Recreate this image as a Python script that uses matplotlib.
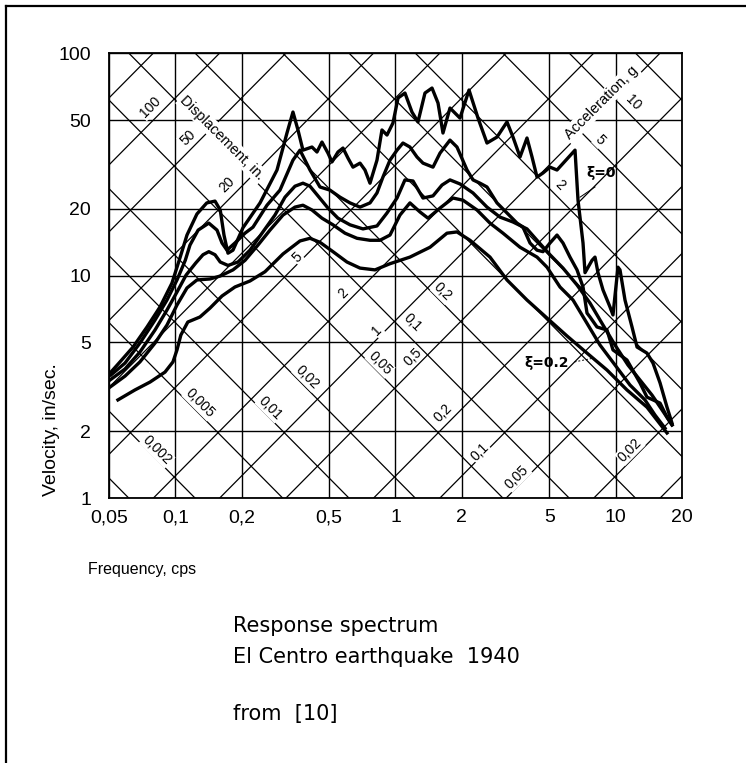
import numpy as np
import matplotlib
matplotlib.use('Agg')
import matplotlib.pyplot as plt
from matplotlib.lines import Line2D
from matplotlib.ticker import NullLocator

G_IN = 386.1  # gravity, in/sec^2

# response curves: frequency (cps) / velocity (in/sec)
freq_0 = [0.051, 0.0561, 0.0643, 0.0744, 0.0852, 0.0966, 0.105, 0.113, 0.1254, 0.139,
          0.1515, 0.160, 0.1664, 0.1735, 0.1828, 0.203, 0.2426, 0.2897, 0.3215, 0.3423,
          0.3607, 0.380, 0.4176, 0.44, 0.4636, 0.4936, 0.5148, 0.548, 0.5775, 0.6086,
          0.6412, 0.69, 0.7268, 0.766, 0.824, 0.868, 0.915, 0.974, 1.027, 1.104,
          1.188, 1.265, 1.361, 1.465, 1.56, 1.643, 1.768, 1.963, 2.157, 2.37,
          2.603, 2.89, 3.209, 3.417, 3.677, 3.955, 4.169, 4.392, 4.676, 5.03,
          5.413, 6.535, 6.743, 7.105, 7.255, 7.805, 8.054, 8.31, 8.757, 9.422,
          9.72, 10.24, 10.46, 11.02, 11.86, 12.5, 13.87, 14.77, 15.9, 17.1, 18.02]
vel_0 = [3.68, 4.09, 4.77, 5.87, 7.22, 9.25, 12.0, 15.2, 18.9, 21.2,
         21.6, 19.7, 15.2, 12.6, 13.0, 16.4, 21.2, 29.8, 43.7, 54.3,
         45.1, 36.6, 37.8, 35.9, 39.8, 35.5, 32.4, 35.9, 37.4, 33.7,
         30.7, 32.0, 29.8, 26.0, 33.0, 45.1, 42.8, 48.5, 62.8, 66.1,
         54.3, 49.0, 66.1, 69.6, 59.6, 43.7, 56.6, 51.0, 68.2, 51.0,
         39.4, 41.9, 49.0, 41.9, 34.1, 41.5, 34.1, 27.7, 28.9, 30.7,
         29.8, 36.6, 21.8, 14.0, 10.3, 11.7, 12.1, 10.3, 8.61, 7.22,
         6.65, 10.9, 10.6, 7.76, 5.87, 4.77, 4.48, 4.04, 3.29, 2.56, 2.17]

freq_002 = [0.051, 0.0591, 0.0691, 0.0809, 0.0917, 0.1018, 0.111, 0.1166, 0.127, 0.142,
            0.1547, 0.163, 0.1717, 0.1866, 0.2073, 0.2254, 0.2609, 0.2988, 0.3423, 0.3684,
            0.409, 0.454, 0.504, 0.5598, 0.6215, 0.69, 0.766, 0.824, 0.877, 0.944,
            1.016, 1.081, 1.163, 1.252, 1.333, 1.48, 1.593, 1.768, 1.902, 2.113,
            2.249, 2.42, 2.603, 2.89, 3.209, 3.563, 3.793, 4.082, 4.392, 4.676,
            5.03, 5.413, 5.763, 6.2, 6.673, 7.105, 7.408, 7.643, 8.224, 9.13,
            9.72, 11.25, 12.89, 13.87, 15.9, 17.1, 18.02]
vel_002 = [3.57, 4.04, 4.97, 6.31, 7.76, 9.55, 11.7, 13.7, 16.0, 17.2,
           16.0, 14.0, 13.0, 14.0, 15.5, 16.5, 20.7, 24.2, 33.0, 36.6,
           29.8, 25.0, 24.2, 22.5, 21.2, 20.3, 21.2, 23.5, 27.7, 33.0,
           36.6, 39.4, 37.8, 34.1, 32.0, 30.7, 35.5, 40.6, 37.8, 29.8,
           26.9, 26.0, 25.0, 21.2, 19.1, 17.2, 16.5, 14.0, 13.0, 12.8,
           14.0, 15.2, 14.0, 12.1, 10.6, 8.88, 6.78, 6.51, 5.87, 5.69,
           4.63, 4.17, 3.29, 2.84, 2.67, 2.31, 2.13]

freq_005 = [0.0505, 0.0591, 0.0691, 0.0809, 0.0917, 0.1018, 0.112, 0.124, 0.1336, 0.142,
            0.1515, 0.160, 0.1735, 0.1926, 0.2184, 0.250, 0.2836, 0.315, 0.3496, 0.380,
            0.409, 0.4446, 0.4936, 0.548, 0.6215, 0.7117, 0.824, 0.915, 1.016, 1.104,
            1.201, 1.333, 1.48, 1.626, 1.768, 1.963, 2.249, 2.603, 2.983, 3.417,
            3.955, 4.392, 5.03, 5.763, 6.673, 7.643, 8.757, 9.93, 11.37, 12.89,
            14.62, 16.23, 18.02]
vel_005 = [3.39, 3.80, 4.53, 5.69, 7.00, 8.43, 10.05, 11.4, 12.4, 12.8,
           12.4, 11.5, 11.1, 11.5, 13.0, 15.7, 18.7, 22.5, 25.2, 26.0,
           25.2, 22.8, 20.1, 18.1, 16.9, 16.2, 16.7, 19.1, 22.3, 26.9,
           26.6, 22.3, 22.8, 25.5, 26.9, 25.8, 23.5, 20.3, 18.3, 17.4,
           16.2, 14.4, 12.4, 10.8, 9.07, 7.52, 5.99, 4.87, 3.96, 3.39,
           2.90, 2.49, 2.13]

freq_010 = [0.0505, 0.0591, 0.0691, 0.0809, 0.0917, 0.1018, 0.113, 0.1254, 0.1438, 0.160,
            0.1828, 0.2073, 0.2374, 0.2692, 0.3084, 0.3496, 0.380, 0.4176, 0.4636, 0.5201,
            0.5897, 0.6686, 0.766, 0.850, 0.944, 1.048, 1.163, 1.292, 1.405, 1.593,
            1.824, 2.026, 2.345, 2.686, 3.077, 3.677, 4.392, 4.875, 5.585, 6.4,
            7.255, 8.486, 9.93, 11.61, 13.58, 15.08, 16.75]
vel_010 = [3.15, 3.53, 4.09, 4.97, 5.99, 7.37, 8.79, 9.55, 9.65, 9.95,
           10.6, 11.7, 13.7, 16.0, 18.7, 20.3, 20.7, 19.7, 18.1, 16.9,
           15.5, 14.7, 14.4, 14.4, 15.2, 18.7, 21.2, 19.3, 18.1, 20.1,
           22.3, 21.8, 19.7, 17.2, 15.5, 13.4, 12.1, 10.9, 8.88, 7.76,
           6.31, 4.87, 3.96, 3.22, 2.76, 2.36, 2.06]

freq_020 = [0.0549, 0.0656, 0.0768, 0.0898, 0.0976, 0.1018, 0.106, 0.114, 0.1294, 0.1438,
            0.163, 0.1866, 0.2184, 0.2555, 0.3084, 0.3684, 0.409, 0.454, 0.5201, 0.602,
            0.69, 0.807, 0.944, 1.163, 1.435, 1.713, 1.902, 2.18, 2.686, 3.209,
            3.955, 4.875, 6.009, 7.408, 9.13, 11.25, 13.87, 15.9, 17.1]
vel_020 = [2.76, 3.06, 3.32, 3.68, 4.09, 4.63, 5.40, 6.18, 6.51, 7.14,
           8.09, 8.88, 9.45, 10.4, 12.5, 14.3, 14.7, 14.1, 12.8, 11.5,
           10.8, 10.6, 11.3, 12.1, 13.4, 15.5, 15.7, 14.4, 12.1, 9.55,
           7.76, 6.44, 5.35, 4.48, 3.76, 3.06, 2.56, 2.15, 1.96]

curves = [(freq_0, vel_0), (freq_002, vel_002), (freq_005, vel_005),
          (freq_010, vel_010), (freq_020, vel_020)]

# tripartite grid
disp_lines = [0.01, 0.02, 0.05, 0.1, 0.2, 0.5, 1, 2, 5, 10, 20, 50, 100, 200]   # in.
acc_lines = [0.001, 0.002, 0.005, 0.01, 0.02, 0.05, 0.1, 0.2, 0.5, 1, 2, 5, 10, 20]  # g

x_ticks = [0.05, 0.1, 0.2, 0.5, 1, 2, 5, 10, 20]
x_labels = ['0,05', '0,1', '0,2', '0,5', '1', '2', '5', '10', '20']
y_ticks = [1, 2, 5, 10, 20, 50, 100]
y_labels = ['1', '2', '5', '10', '20', '50', '100']

# grid value labels: text, frequency, velocity
disp_labels = [('100', 0.0768, 57.2), ('50', 0.114, 41.5), ('20', 0.172, 25.5),
               ('5', 0.357, 12.1), ('2', 0.578, 8.34), ('1', 0.824, 5.69),
               ('0,5', 1.2, 4.3), ('0,2', 1.64, 2.41), ('0,1', 2.42, 1.61),
               ('0,05', 3.56, 1.24), ('0,02', 11.6, 1.64)]
acc_labels = [('0,002', 0.0827, 1.64), ('0,005', 0.129, 2.67), ('0,01', 0.269, 2.54),
              ('0,02', 0.396, 3.5), ('0,05', 0.851, 4.04), ('0,1', 1.19, 6.18),
              ('0,2', 1.64, 8.43), ('2', 5.58, 25.5), ('5', 8.49, 40.6), ('10', 12.0, 59.6)]

fig = plt.figure(figsize=(7.46, 7.63), dpi=100)
ax = fig.add_axes([0.1461, 0.3473, 0.7681, 0.5832])
ax.set_xscale('log')
ax.set_yscale('log')
ax.set_xlim(0.05, 20)
ax.set_ylim(1, 100)

f_end = np.array([0.05, 20.0])
for d in disp_lines:
    ax.plot(f_end, 2 * np.pi * f_end * d, color='black', lw=0.9, zorder=1)
for a in acc_lines:
    ax.plot(f_end, a * G_IN / (2 * np.pi * f_end), color='black', lw=0.9, zorder=1)

ax.set_xticks(x_ticks)
ax.set_xticklabels(x_labels)
ax.set_yticks(y_ticks)
ax.set_yticklabels(y_labels)
ax.xaxis.set_minor_locator(NullLocator())
ax.yaxis.set_minor_locator(NullLocator())
ax.grid(True, color='black', lw=1.0, zorder=1)
ax.tick_params(length=0, labelsize=14)
ax.tick_params(axis='x', pad=8)
ax.tick_params(axis='y', pad=13)
for lab in ax.get_xticklabels() + ax.get_yticklabels():
    lab.set_family('Liberation Sans')
for sp in ax.spines.values():
    sp.set_linewidth(1.3)

lbl_box = dict(facecolor='white', edgecolor='none', pad=0.6)
for txt, f, v in disp_labels:
    ax.text(f, v, txt, rotation=45, ha='center', va='center', fontsize=10,
            family='Liberation Sans', bbox=lbl_box, zorder=3)
for txt, f, v in acc_labels:
    ax.text(f, v, txt, rotation=-45, ha='center', va='center', fontsize=10,
            family='Liberation Sans', bbox=lbl_box, zorder=3)
ax.text(0.163, 41.5, 'Displacement, in.', rotation=-45, ha='center', va='center',
        fontsize=10.5, family='Liberation Sans', bbox=dict(facecolor='white', edgecolor='none', pad=1), zorder=3)
ax.text(8.59, 59.6, 'Acceleration, g', rotation=45, ha='center', va='center',
        fontsize=10.5, family='Liberation Sans', bbox=dict(facecolor='white', edgecolor='none', pad=1), zorder=3)

for f, v in curves:
    ax.plot(f, v, color='black', lw=2.4, solid_joinstyle='round', zorder=4)

# damping notes
ax.text(8.6, 28.9, 'ξ=0', ha='center', va='center', fontsize=10, fontweight='bold', zorder=5)
ax.plot([6.886, 8.054], [22.5, 25.0], color='black', lw=0.7, zorder=5)
ax.text(4.88, 4.04, 'ξ=0.2', ha='center', va='center', fontsize=10, fontweight='bold', zorder=5)
ax.plot([6.5, 7.9], [4.09, 4.25], color='black', lw=0.7, ls=(0, (2, 2)), zorder=5)

ax.text(-0.0995, 0.153, 'Velocity, in/sec.', transform=ax.transAxes, rotation=90,
        ha='center', va='center', fontsize=14, family='Liberation Sans')
ax.text(-0.0367, -0.16, 'Frequency, cps', transform=ax.transAxes,
        ha='left', va='center', fontsize=11.5, family='Liberation Sans')

fig.text(0.3123, 0.1796, 'Response spectrum', ha='left', va='center', fontsize=15)
fig.text(0.3123, 0.1389, 'El Centro earthquake  1940', ha='left', va='center', fontsize=15)
fig.text(0.3123, 0.0642, 'from  [10]', ha='left', va='center', fontsize=15)

# page border (left and top edges)
fig.add_artist(Line2D([0.008, 0.008], [0.0, 0.992], transform=fig.transFigure, color='black', lw=1.6))
fig.add_artist(Line2D([0.008, 1.0], [0.992, 0.992], transform=fig.transFigure, color='black', lw=1.6))

fig.savefig('out.png', dpi=100)
